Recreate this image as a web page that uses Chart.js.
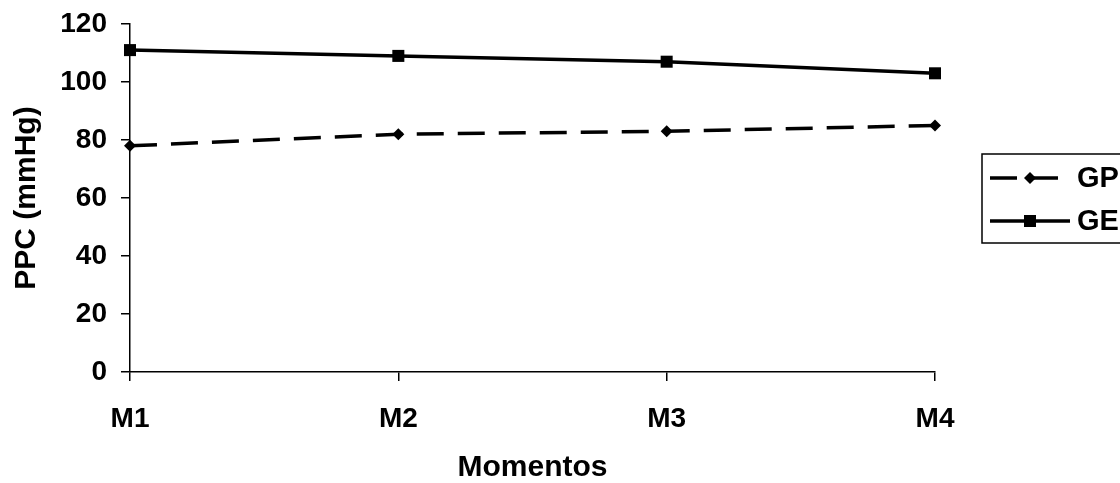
<!DOCTYPE html>
<html>
<head>
<meta charset="utf-8">
<script src="https://cdn.jsdelivr.net/npm/chart.js@4/dist/chart.umd.min.js"></script>
<style>
  html, body { margin: 0; padding: 0; background: #fff; overflow: hidden; }
  #wrap { width: 1120px; height: 483px; position: relative; }
</style>
</head>
<body>
<div id="wrap"><canvas id="c" width="1120" height="483"></canvas></div>
<script>
const categories = ['M1', 'M2', 'M3', 'M4'];
const seriesGP = [78, 82, 83, 85];
const seriesGE = [111, 109, 107, 103];
const seriesNames = ['GP', 'GE'];
const yTicks = [0, 20, 40, 60, 80, 100, 120];
const xTitle = 'Momentos';
const yTitle = 'PPC (mmHg)';

const FONT = "'Liberation Sans', Arial, Helvetica, sans-serif";

const legendBox = {
  id: 'legendBox',
  afterDraw(chart) {
    const ctx = chart.ctx;
    const ds = chart.data.datasets;
    const left = 982, top = 154, bottom = 243;
    const rows = [178, 221];
    ctx.save();
    ctx.strokeStyle = '#000';
    ctx.lineWidth = 1.5;
    ctx.strokeRect(left, top, 220, bottom - top);
    ds.forEach((d, i) => {
      const y = rows[i];
      ctx.strokeStyle = d.borderColor;
      ctx.lineWidth = d.borderWidth;
      ctx.setLineDash(d.borderDash || []);
      ctx.beginPath();
      ctx.moveTo(990, y);
      ctx.lineTo(i === 0 ? 1058 : 1070, y);
      ctx.stroke();
      ctx.setLineDash([]);
      ctx.fillStyle = d.pointBackgroundColor;
      const cx = 1030;
      ctx.beginPath();
      if (d.pointStyle === 'rectRot') {
        const r = d.pointRadius;
        ctx.moveTo(cx - r, y); ctx.lineTo(cx, y - r); ctx.lineTo(cx + r, y); ctx.lineTo(cx, y + r);
        ctx.closePath();
      } else {
        const s = Math.SQRT1_2 * d.pointRadius;
        ctx.rect(cx - s, y - s, 2 * s, 2 * s);
      }
      ctx.fill();
      ctx.fillStyle = '#000';
      ctx.font = 'bold 29px ' + FONT;
      ctx.textBaseline = 'middle';
      ctx.textAlign = 'left';
      ctx.fillText(d.label, 1077, y + 1);
    });
    ctx.restore();
  }
};

new Chart(document.getElementById('c'), {
  type: 'line',
  data: {
    labels: categories,
    datasets: [
      {
        label: seriesNames[0],
        data: seriesGP,
        borderColor: '#000',
        backgroundColor: '#000',
        pointBackgroundColor: '#000',
        pointBorderColor: '#000',
        borderWidth: 3.5,
        borderDash: [27, 14],
        pointStyle: 'rectRot',
        pointRadius: 6,
        pointBorderWidth: 0,
        tension: 0,
        fill: false,
        clip: false
      },
      {
        label: seriesNames[1],
        data: seriesGE,
        borderColor: '#000',
        backgroundColor: '#000',
        pointBackgroundColor: '#000',
        pointBorderColor: '#000',
        borderWidth: 3.5,
        pointStyle: 'rect',
        pointRadius: 8.5,
        pointBorderWidth: 0,
        tension: 0,
        fill: false,
        clip: false
      }
    ]
  },
  options: {
    responsive: false,
    animation: false,
    devicePixelRatio: 1,
    layout: { padding: { left: 0, right: 185, top: 24, bottom: 0 } },
    plugins: {
      legend: { display: false },
      tooltip: { enabled: false },
      title: { display: false }
    },
    scales: {
      x: {
        type: 'category',
        offset: false,
        grid: { display: true, drawOnChartArea: false, drawTicks: true, tickLength: 9, color: '#000', lineWidth: 1.5, offset: false },
        border: { display: true, color: '#000', width: 1.5 },
        ticks: { color: '#000', font: { family: FONT, size: 28, weight: 'bold' }, padding: 21, maxRotation: 0, autoSkip: false },
        title: { display: true, text: xTitle, color: '#000', font: { family: FONT, size: 30, weight: 'bold', lineHeight: 1 }, padding: { top: 0, bottom: 0 } },
        afterFit(scale) { scale.height = 111; scale.paddingLeft = 0; scale.paddingRight = 0; }
      },
      y: {
        min: 0,
        max: 120,
        afterBuildTicks(scale) { scale.ticks = yTicks.map(v => ({ value: v })); },
        grid: { display: true, drawOnChartArea: false, drawTicks: true, tickLength: 9, color: '#000', lineWidth: 1.5 },
        border: { display: true, color: '#000', width: 1.5 },
        ticks: { color: '#000', font: { family: FONT, size: 28, weight: 'bold' }, padding: 14 },
        title: { display: true, text: yTitle, color: '#000', font: { family: FONT, size: 30, weight: 'bold', lineHeight: 1 }, padding: { top: 12, bottom: 0 } },
        afterFit(scale) { scale.width = 130; scale.paddingTop = 0; scale.paddingBottom = 0; }
      }
    }
  },
  plugins: [legendBox]
});
</script>
</body>
</html>
